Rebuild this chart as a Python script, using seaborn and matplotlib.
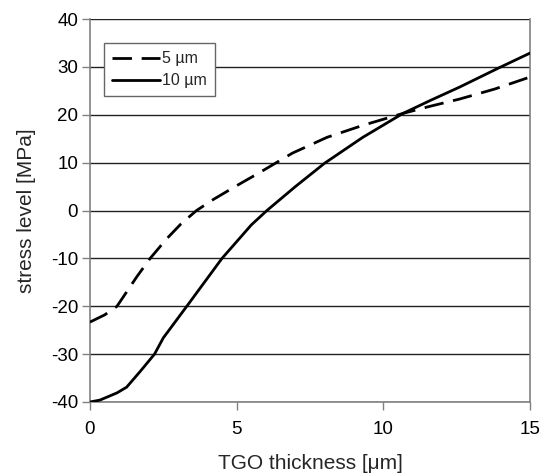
import matplotlib
matplotlib.use("Agg")
import matplotlib.pyplot as plt
import seaborn as sns
import pandas as pd

# TGO thickness [um] and stress level [MPa] for two bond-coat roughness values
x_5um = [0.0, 0.5, 0.92, 1.25, 1.6, 2.05, 2.6, 3.1, 3.63, 4.2, 5.0, 5.8, 6.9, 8.08, 9.3, 10.67, 11.6, 12.6, 13.8, 15.0]
y_5um = [-23.3, -21.8, -20.0, -17.0, -13.8, -10.0, -6.0, -2.8, 0.0, 2.3, 5.2, 8.0, 12.0, 15.3, 17.8, 20.3, 21.8, 23.3, 25.4, 27.9]

x_10um = [0.0, 0.34, 0.92, 1.25, 1.7, 2.2, 2.5, 3.3, 4.5, 5.5, 6.03, 7.0, 8.0, 9.3, 10.67, 11.6, 12.6, 13.9, 15.0]
y_10um = [-40.0, -39.6, -38.1, -36.9, -33.7, -30.0, -26.6, -20.0, -10.0, -3.0, 0.0, 5.0, 9.9, 15.3, 20.3, 23.0, 25.8, 29.7, 32.9]

series_labels = ["5 µm", "10 µm"]
x_ticks = [0, 5, 10, 15]
y_ticks = [-40, -30, -20, -10, 0, 10, 20, 30, 40]

df = pd.concat([
    pd.DataFrame({"x": x_5um, "y": y_5um, "s": series_labels[0]}),
    pd.DataFrame({"x": x_10um, "y": y_10um, "s": series_labels[1]}),
])

sns.set_theme(style="white")
plt.rcParams["font.family"] = ["Liberation Sans", "DejaVu Sans"]
plt.rcParams["axes.unicode_minus"] = False

fig = plt.figure(figsize=(5.43, 4.75), dpi=100)
ax = fig.add_axes([0.1657, 0.1537, 0.8103, 0.806])

for yv in y_ticks:
    ax.axhline(yv, color="#222222", lw=1.0, zorder=1)

sns.lineplot(data=df, x="x", y="y", hue="s", style="s",
             palette=["black", "black"],
             dashes={series_labels[0]: (7, 3.5), series_labels[1]: ""},
             linewidth=2.0, sort=False, estimator=None, ax=ax, zorder=3)

ax.set_xlim(0, 15)
ax.set_ylim(-40, 40)
ax.set_xticks(x_ticks)
ax.set_yticks(y_ticks)
ax.tick_params(axis="both", labelsize=13.5, labelcolor="black", color="#808080",
               direction="out", length=5.5, width=1, pad=3, left=True, bottom=True)
ax.tick_params(axis="x", pad=8)
for side in ["left", "bottom", "right"]:
    ax.spines[side].set_visible(True)
    ax.spines[side].set_color("#808080")
    ax.spines[side].set_linewidth(1.2)
ax.spines["top"].set_visible(False)

ax.set_xlabel("TGO thickness [μm]", fontsize=15, labelpad=12)
ax.set_ylabel("stress level [MPa]", fontsize=15, labelpad=11)

leg = ax.legend(title=None, loc="upper left", bbox_to_anchor=(0.032, 0.937),
                frameon=True, fancybox=False, fontsize=11.5,
                handlelength=3.0, handletextpad=0.15, borderpad=0.5,
                labelspacing=0.45, borderaxespad=0)
leg.get_frame().set_edgecolor("#666666")
leg.get_frame().set_linewidth(1.0)
leg.get_frame().set_facecolor("white")
leg.get_frame().set_alpha(1.0)
leg.set_zorder(5)

fig.savefig("out.png", dpi=100)
